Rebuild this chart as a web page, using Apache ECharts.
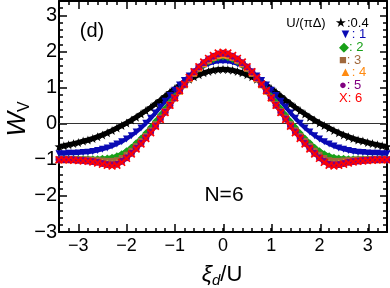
<!DOCTYPE html>
<html>
<head>
<meta charset="utf-8">
<script src="https://cdn.jsdelivr.net/npm/echarts@6/dist/echarts.min.js"></script>
<style>html,body{margin:0;padding:0;background:#fff}#c{width:390px;height:288px}</style>
</head>
<body>
<div id="c"></div>
<script>
// x grid (xi_d / U)
var xs = [-3.4,-3.3,-3.2,-3.1,-3.0,-2.9,-2.8,-2.7,-2.6,-2.5,-2.4,-2.3,-2.2,-2.1,-2.0,-1.9,-1.8,-1.7,-1.6,-1.5,-1.4,-1.3,-1.2,-1.1,-1.0,-0.9,-0.8,-0.7,-0.6,-0.5,-0.4,-0.3,-0.2,-0.1,0,
          0.1,0.2,0.3,0.4,0.5,0.6,0.7,0.8,0.9,1.0,1.1,1.2,1.3,1.4,1.5,1.6,1.7,1.8,1.9,2.0,2.1,2.2,2.3,2.4,2.5,2.6,2.7,2.8,2.9,3.0,3.1,3.2,3.3,3.4];
// U/(pi Delta) = 0.4
var w04 = [-0.63,-0.61,-0.58,-0.55,-0.52,-0.48,-0.45,-0.41,-0.36,-0.31,-0.25,-0.19,-0.12,-0.05,0.02,0.10,0.18,0.27,0.36,0.45,0.55,0.65,0.76,0.87,0.97,1.06,1.15,1.23,1.30,1.36,1.41,1.45,1.48,1.50,1.51,
           1.50,1.48,1.45,1.41,1.36,1.30,1.23,1.15,1.06,0.97,0.87,0.76,0.65,0.55,0.45,0.36,0.27,0.18,0.10,0.02,-0.05,-0.12,-0.19,-0.25,-0.31,-0.36,-0.41,-0.45,-0.48,-0.52,-0.55,-0.58,-0.61,-0.63];
// U/(pi Delta) = 1
var w1 = [-0.83,-0.83,-0.82,-0.82,-0.81,-0.80,-0.79,-0.77,-0.74,-0.71,-0.67,-0.62,-0.56,-0.50,-0.42,-0.33,-0.23,-0.12,0.01,0.15,0.30,0.46,0.62,0.78,0.93,1.07,1.20,1.32,1.43,1.52,1.60,1.66,1.70,1.73,1.74,
          1.73,1.70,1.66,1.60,1.52,1.43,1.32,1.20,1.07,0.93,0.78,0.62,0.46,0.30,0.15,0.01,-0.12,-0.23,-0.33,-0.42,-0.50,-0.56,-0.62,-0.67,-0.71,-0.74,-0.77,-0.79,-0.80,-0.81,-0.82,-0.82,-0.83,-0.83];
// U/(pi Delta) = 2
var w2 = [-0.97,-0.97,-0.97,-0.97,-0.97,-0.97,-0.97,-0.97,-0.97,-0.96,-0.95,-0.93,-0.89,-0.83,-0.75,-0.65,-0.53,-0.40,-0.26,-0.10,0.07,0.24,0.42,0.60,0.77,0.94,1.10,1.25,1.39,1.51,1.62,1.71,1.78,1.83,1.85,
          1.83,1.78,1.71,1.62,1.51,1.39,1.25,1.10,0.94,0.77,0.60,0.42,0.24,0.07,-0.10,-0.26,-0.40,-0.53,-0.65,-0.75,-0.83,-0.89,-0.93,-0.95,-0.96,-0.97,-0.97,-0.97,-0.97,-0.97,-0.97,-0.97,-0.97,-0.97];
// U/(pi Delta) = 3
var w3 = [-0.99,-0.99,-0.99,-0.99,-0.99,-0.99,-0.99,-1.00,-1.01,-1.02,-1.03,-1.03,-1.01,-0.95,-0.86,-0.75,-0.62,-0.48,-0.34,-0.18,-0.01,0.17,0.35,0.54,0.72,0.90,1.07,1.23,1.38,1.52,1.64,1.74,1.82,1.87,1.89,
          1.87,1.82,1.74,1.64,1.52,1.38,1.23,1.07,0.90,0.72,0.54,0.35,0.17,-0.01,-0.18,-0.34,-0.48,-0.62,-0.75,-0.86,-0.95,-1.01,-1.03,-1.03,-1.02,-1.01,-1.00,-0.99,-0.99,-0.99,-0.99,-0.99,-0.99,-0.99];
// U/(pi Delta) = 4
var w4 = [-1.00,-1.00,-1.00,-1.00,-1.00,-1.01,-1.02,-1.03,-1.05,-1.07,-1.09,-1.10,-1.08,-1.01,-0.91,-0.80,-0.66,-0.52,-0.37,-0.21,-0.04,0.14,0.33,0.52,0.71,0.90,1.08,1.25,1.41,1.55,1.67,1.77,1.85,1.90,1.92,
          1.90,1.85,1.77,1.67,1.55,1.41,1.25,1.08,0.90,0.71,0.52,0.33,0.14,-0.04,-0.21,-0.37,-0.52,-0.66,-0.80,-0.91,-1.01,-1.08,-1.10,-1.09,-1.07,-1.05,-1.03,-1.02,-1.01,-1.00,-1.00,-1.00,-1.00,-1.00];
// U/(pi Delta) = 5
var w5 = [-1.00,-1.00,-1.00,-1.00,-1.01,-1.02,-1.03,-1.05,-1.07,-1.10,-1.13,-1.14,-1.12,-1.04,-0.94,-0.82,-0.68,-0.54,-0.39,-0.23,-0.06,0.13,0.32,0.51,0.71,0.91,1.09,1.27,1.43,1.57,1.69,1.79,1.87,1.93,1.95,
          1.93,1.87,1.79,1.69,1.57,1.43,1.27,1.09,0.91,0.71,0.51,0.32,0.13,-0.06,-0.23,-0.39,-0.54,-0.68,-0.82,-0.94,-1.04,-1.12,-1.14,-1.13,-1.10,-1.07,-1.05,-1.03,-1.02,-1.01,-1.00,-1.00,-1.00,-1.00];
// U/(pi Delta) = 6
var w6 = [-1.00,-1.00,-1.00,-1.01,-1.02,-1.03,-1.04,-1.06,-1.09,-1.12,-1.15,-1.17,-1.15,-1.07,-0.96,-0.84,-0.70,-0.56,-0.41,-0.25,-0.07,0.12,0.31,0.51,0.72,0.92,1.10,1.28,1.44,1.58,1.71,1.81,1.89,1.96,1.98,
          1.96,1.89,1.81,1.71,1.58,1.44,1.28,1.10,0.92,0.72,0.51,0.31,0.12,-0.07,-0.25,-0.41,-0.56,-0.70,-0.84,-0.96,-1.07,-1.15,-1.17,-1.15,-1.12,-1.09,-1.06,-1.04,-1.03,-1.02,-1.01,-1.00,-1.00,-1.00];

var legendTitle = 'U/(\u03c0\u0394)';
var legendRows = ['\u2605:0.4', '\u25bc: 1', '\u25c6: 2', '\u25a0: 3', '\u25b2: 4', '\u25cf: 5', 'X: 6'];
var colors = ['#000000', '#0a0ab4', '#18a018', '#a0683c', '#ff8a10', '#800080', '#ff0000'];
var panelLabel = '(d)';
var nLabel = 'N=6';

var FONT = '"Liberation Sans", Arial, sans-serif';
function pairs(ys) { return xs.map(function (x, i) { return [x, ys[i]]; }); }
function intLabel(v) {
  var r = Math.round(v);
  if (Math.abs(v - r) > 1e-6) return '';
  return r < 0 ? '\u2212' + (-r) : '' + r;
}
var STAR = 'path://M0,-10 L2.35,-3.24 L9.51,-3.09 L3.8,1.24 L5.88,8.09 L0,4 L-5.88,8.09 L-3.8,1.24 L-9.51,-3.09 L-2.35,-3.24 Z';
var XSYM = 'path://M0,1.5 L1.5,0 L5,3.5 L8.5,0 L10,1.5 L6.5,5 L10,8.5 L8.5,10 L5,6.5 L1.5,10 L0,8.5 L3.5,5 Z';

var L = 59, R = 2, T = 1, B = 56;
var W = 390 - L - R, H = 288 - T - B;
var pxX = W / 6.8, pxY = H / 6.4;

var frameLine = { show: true, onZero: false, lineStyle: { color: '#000', width: 2 } };
var noLine = { show: false, onZero: false };
var minorTick = { show: true, inside: true, length: 4, lineStyle: { color: '#000', width: 1.5 } };
var majorTick = { show: true, inside: true, length: 8, lineStyle: { color: '#000', width: 1.5 } };

function ser(name, ys, color, symbol, size, rot, lw, extra) {
  var s = {
    type: 'line', name: name, data: pairs(ys), xAxisIndex: 0, yAxisIndex: 0,
    showSymbol: true, symbol: symbol, symbolSize: size, symbolRotate: rot || 0,
    lineStyle: { color: color, width: lw }, itemStyle: { color: color, opacity: 1 },
    silent: true, smooth: false
  };
  if (extra) for (var k in extra) s[k] = extra[k];
  return s;
}

var chart = echarts.init(document.getElementById('c'), null, { renderer: 'canvas' });
var option = {
  animation: false,
  backgroundColor: '#fff',
  grid: [
    { left: L, right: R, top: T, bottom: B },
    { left: L + 0.4 * pxX, right: R + 0.4 * pxX, top: T, bottom: B },
    { left: L, right: R, top: T + 0.4 * pxY, bottom: B }
  ],
  xAxis: [
    { type: 'value', gridIndex: 0, position: 'bottom', min: -3.4, max: 3.4, interval: 0.2,
      axisLine: frameLine, axisTick: minorTick, splitLine: { show: false },
      axisLabel: { formatter: intLabel, color: '#000', fontSize: 18, fontFamily: FONT, margin: 5 } },
    { type: 'value', gridIndex: 0, position: 'top', min: -3.4, max: 3.4, interval: 0.2,
      axisLine: frameLine, axisTick: minorTick, splitLine: { show: false }, axisLabel: { show: false } },
    { type: 'value', gridIndex: 1, position: 'bottom', min: -3, max: 3, interval: 1,
      axisLine: noLine, axisTick: majorTick, splitLine: { show: false }, axisLabel: { show: false } },
    { type: 'value', gridIndex: 1, position: 'top', min: -3, max: 3, interval: 1,
      axisLine: noLine, axisTick: majorTick, splitLine: { show: false }, axisLabel: { show: false } },
    { type: 'value', gridIndex: 2, min: 0, max: 1, show: false }
  ],
  yAxis: [
    { type: 'value', gridIndex: 0, position: 'left', min: -3, max: 3.4, interval: 0.2,
      axisLine: frameLine, axisTick: minorTick, splitLine: { show: false },
      axisLabel: { formatter: intLabel, color: '#000', fontSize: 20, fontFamily: FONT, margin: 2 } },
    { type: 'value', gridIndex: 0, position: 'right', min: -3, max: 3.4, interval: 0.2,
      axisLine: frameLine, axisTick: minorTick, splitLine: { show: false }, axisLabel: { show: false } },
    { type: 'value', gridIndex: 1, min: 0, max: 1, show: false },
    { type: 'value', gridIndex: 2, position: 'left', min: -3, max: 3, interval: 1,
      axisLine: noLine, axisTick: majorTick, splitLine: { show: false }, axisLabel: { show: false } },
    { type: 'value', gridIndex: 2, position: 'right', min: -3, max: 3, interval: 1,
      axisLine: noLine, axisTick: majorTick, splitLine: { show: false }, axisLabel: { show: false } }
  ],
  series: [
    ser('0.4', w04, colors[0], STAR, 9, 0, 5, {
      markLine: { silent: true, symbol: 'none', label: { show: false }, z: 1,
        lineStyle: { color: '#333', width: 1, type: 'solid' }, data: [{ yAxis: 0 }] }
    }),
    ser('1', w1, colors[1], 'triangle', 7, 180, 4),
    ser('2', w2, colors[2], 'diamond', 7, 0, 4),
    ser('3', w3, colors[3], 'rect', 6, 0, 4),
    ser('4', w4, colors[4], 'triangle', 7, 0, 4),
    ser('5', w5, colors[5], 'circle', 7, 0, 4),
    ser('6', w6, colors[6], XSYM, 8, 0, 4)
  ],
  graphic: []
};

var g = option.graphic;
g.push({ type: 'text', x: 306, y: 23, z: 100, style: { text: legendTitle, font: '13px ' + FONT, fill: '#000', align: 'center', verticalAlign: 'middle' } });
g.push({ type: 'text', x: 335, y: 23, z: 100, style: { text: legendRows[0], font: '13px ' + FONT, fill: colors[0], align: 'left', verticalAlign: 'middle' } });
for (var i = 1; i < legendRows.length; i++) {
  g.push({ type: 'text', x: 339, y: 34.5 + (i - 1) * 12.8, z: 100,
    style: { text: legendRows[i], font: '13px ' + FONT, fill: colors[i], align: 'left', verticalAlign: 'middle' } });
}
g.push({ type: 'text', x: 92, y: 31, z: 100, style: { text: panelLabel, font: '20px ' + FONT, fill: '#000', align: 'center', verticalAlign: 'middle' } });
g.push({ type: 'text', x: 224, y: 195, z: 100, style: { text: nLabel, font: '21px ' + FONT, fill: '#000', align: 'center', verticalAlign: 'middle' } });
// x axis title
g.push({ type: 'text', x: 222, y: 275, z: 100, style: {
  text: '{a|\u03be}{b|d}{c|/U}', align: 'center', verticalAlign: 'middle',
  rich: {
    a: { fontSize: 23, fontStyle: 'italic', fontFamily: FONT, fill: '#000', color: '#000', lineHeight: 26, verticalAlign: 'middle' },
    b: { fontSize: 15, fontStyle: 'italic', fontFamily: FONT, fill: '#000', color: '#000', lineHeight: 13, verticalAlign: 'bottom' },
    c: { fontSize: 22, fontFamily: FONT, fill: '#000', color: '#000', lineHeight: 26, verticalAlign: 'middle' }
  } } });
// y axis title
g.push({ type: 'text', x: 18, y: 119, rotation: Math.PI / 2, z: 100, style: {
  text: '{a|W}{b|V}', align: 'center', verticalAlign: 'middle',
  rich: {
    a: { fontSize: 26, fontStyle: 'italic', fontFamily: FONT, fill: '#000', color: '#000', lineHeight: 30, verticalAlign: 'middle' },
    b: { fontSize: 16, fontFamily: FONT, fill: '#000', color: '#000', lineHeight: 14, verticalAlign: 'bottom' }
  } } });

chart.setOption(option);
</script>
</body>
</html>
